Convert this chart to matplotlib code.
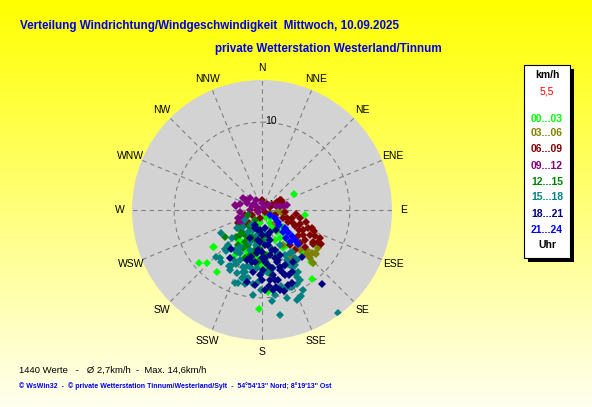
import numpy as np
import matplotlib
matplotlib.use('Agg')
import matplotlib.pyplot as plt
from matplotlib.patches import Rectangle

W, H = 592, 407
FONT = 'Liberation Sans'

# ---------------- data ----------------
title_line1 = "Verteilung Windrichtung/Windgeschwindigkeit  Mittwoch, 10.09.2025"
title_line2 = "private Wetterstation Westerland/Tinnum"
stats_text = "1440 Werte   -   Ø 2,7km/h  -  Max. 14,6km/h"
footer_text = "© WsWin32  -  © private Wetterstation Tinnum/Westerland/Sylt  -  54°54'13'' Nord; 8°19'13'' Ost"
legend_unit = "km/h"
legend_mean = "5,5"
legend_hours_title = "Uhr"

directions = ['N', 'NNE', 'NE', 'ENE', 'E', 'ESE', 'SE', 'SSE',
              'S', 'SSW', 'SW', 'WSW', 'W', 'WNW', 'NW', 'NNW']
ring_values = [10]
r_max = 14.8

hour_labels = ['00...03', '03...06', '06...09', '09...12',
               '12...15', '15...18', '18...21', '21...24']
hour_colors = ['#00FF00', '#808000', '#800000', '#800080',
               '#008000', '#008080', '#000080', '#0000FF']

# wind direction (degrees, from N clockwise) and speed (km/h) per 3-hour block
dir_00_03 = [63, 97, 110, 123, 137, 230, 226, 232, 216, 182, 144, 136, 136, 213, 200, 194,
             186, 194, 200, 177, 182, 176, 148, 146, 147, 144, 157, 190, 189, 180, 192, 175,
             185, 204, 149, 157, 129, 151, 212, 206, 233, 221,
             135, 138, 140.6, 219, 211, 172, 174]
spd_00_03 = [4.1, 4.9, 3.4, 7.5, 8.1, 9.3, 8.7, 6.9, 8.7, 11.3, 9.7, 8.4, 6.8, 4.75, 5.0, 5.2,
             5.4, 3.4, 5.7, 6.6, 6.25, 9.35, 1.7, 3.0, 3.8, 4.9, 0.9, 3.1, 1.5, 4.9, 4.9, 6.05,
             6.5, 4.7, 2.4, 3.7, 3.1, 4.9, 4.3, 3.15, 7.0, 7.25,
             1.3, 2.7, 4.1, 4.4, 6.0, 5.2, 8.9]

dir_03_06 = [129, 132, 147, 149, 136, 124, 135, 136, 101, 98, 114, 84, 131, 131, 134, 129,
             149, 138, 110, 135]
spd_03_06 = [7.75, 6.85, 6.3, 4.6, 8.4, 7.7, 7.7, 6.3, 1.7, 2.3, 1.4, 2.05, 5.7, 7.5, 7.15, 7.9,
             6.2, 5.8, 1.0, 2.1]

dir_06_09 = [0, 40, 70, 68, 61, 62, 65, 62, 69, 270, 239, 225, 194, 63, 66, 111,
             115, 105, 116, 110, 116, 111, 118, 116, 120, 120, 122, 125, 126, 116, 97, 102,
             105, 110, 95, 141, 140, 131, 131, 108, 113, 121, 118, 124, 112, 237, 229,
             241.5, 254, 243, 124, 111]
spd_06_09 = [1.1, 0.9, 1.7, 2.4, 2.3, 1.9, 1.6, 2.45, 1.0, 0.6, 2.65, 2.1, 0.9, 1.3, 2.0, 2.55,
             3.25, 3.5, 4.2, 4.6, 5.2, 5.6, 6.15, 6.7, 7.3, 7.8, 6.8, 6.0, 5.0, 7.3, 3.9, 4.4,
             5.2, 6.0, 2.6, 5.1, 5.9, 5.7, 6.45, 3.0, 3.8, 5.5, 4.8, 7.0, 6.4, 3.0, 2.4,
             3.1, 2.0, 1.27, 0.4, 1.6]

dir_09_12 = [302, 279, 295, 307, 270, 238, 250, 265, 252, 329, 0, 74, 77, 80, 315, 239,
             245, 280, 301, 243, 27, 285, 302, 292, 50, 79]
spd_09_12 = [2.55, 3.0, 1.9, 1.1, 1.36, 2.55, 2.3, 2.5, 2.9, 1.3, 0.8, 1.65, 2.1, 2.5, 1.9, 2.9,
             2.1, 3.1, 0.66, 0.5, 0.25, 2.6, 2.1, 1.2, 0.9, 2.9]

dir_12_15 = [234, 231, 214, 219, 214, 202, 193, 192, 200, 191, 224, 183, 177, 174, 200, 185,
             215, 208, 188, 172, 250, 215, 173, 221, 175, 180,
             222, 205, 190, 195, 206.5, 184, 233]
spd_12_15 = [5.2, 3.2, 3.4, 2.2, 4.8, 4.3, 3.5, 5.2, 5.8, 2.3, 4.3, 4.5, 5.7, 7.2, 3.3, 2.6,
             2.4, 4.1, 4.2, 6.9, 1.7, 1.4, 2.9, 3.8, 5.1, 3.4,
             3.4, 3.75, 4.6, 5.3, 4.8, 5.9, 3.4]

dir_15_18 = [241, 223.5, 221, 221, 210.5, 205.7, 200.3, 198.2, 198.4, 195.3, 191.9, 186, 173.7,
             170.3, 157.2, 158.7, 155.6, 160, 164, 152.4, 149.9, 151.5, 153.4, 144.5, 160.8,
             167.8, 169.3, 175.4, 180, 185, 143.5, 201.6, 196.4, 191.6, 209.2, 210.8, 210.7,
             200.6, 204, 191, 177.5, 168.7, 234.2, 228, 224.4, 218.3, 207, 195, 187, 182.4,
             194, 152.4, 154.7, 209, 197, 158.7, 166, 240, 214, 145, 154.3, 147, 160, 149,
             224, 227, 208, 204, 214, 193, 197, 153, 153, 151.5, 153, 164, 171, 181, 212, 190,
             153, 145.5]
spd_15_18 = [5.4, 6.1, 7.25, 6.2, 7.4, 6.8, 8.85, 8.7, 6.8, 7.3, 6.6, 9.7, 10.4,
             12.1, 10.85, 11.0, 10.7, 9.3, 9.45, 8.6, 8.15, 7.4, 6.35, 5.9, 5.2,
             4.3, 6.7, 7.1, 7.2, 6.6, 14.6, 7.7, 8.05, 7.9, 6.5, 5.55, 4.9,
             3.9, 2.5, 2.9, 2.6, 3.5, 3.5, 2.9, 7.5, 7.5, 5.5, 6.6, 8.5, 8.1,
             8.0, 8.1, 9.3, 7.3, 7.4, 9.4, 8.9, 2.2, 2.05, 6.9, 6.8, 5.8, 6.9, 7.3,
             5.5, 4.7, 7.7, 6.2, 5.5, 8.7, 4.75, 5.7, 7.0, 9.05, 10.2, 10.4, 9.8, 9.1, 3.0, 4.0,
             4.5, 6.6]

dir_18_21 = [205, 186, 170, 187.6, 175, 165, 180, 170, 162, 162, 174, 163, 160.5, 169.5, 161,
             157.7, 165, 172, 175, 170, 179, 188, 141, 149, 154, 139.6, 167, 161.6, 170.4,
             162.5, 164, 183.6, 186.6, 193, 196.7, 191.8, 213.7, 218.5, 166.5, 166, 176, 157,
             157, 180, 188, 191, 145, 158,
             201, 180, 170, 186, 177, 170, 182, 185, 167, 173.5, 191, 180, 165, 160, 203, 178]
spd_18_21 = [1.9, 2.3, 2.05, 3.4, 4.0, 3.5, 4.8, 5.2, 4.8, 6.0, 6.3, 7.1, 7.8, 8.1, 9.0,
             9.0, 9.6, 9.2, 8.7, 8.9, 6.8, 7.1, 10.8, 6.9, 7.8, 7.0, 8.2, 7.5, 7.5,
             6.8, 6.15, 3.65, 4.9, 5.5, 5.9, 8.4, 6.6, 5.7, 2.95, 4.7, 5.5, 6.8,
             8.0, 8.0, 6.0, 2.3, 2.8, 5.5,
             2.2, 2.8, 4.0, 4.6, 5.9, 6.7, 7.4, 8.6, 9.3, 8.0, 6.0, 5.45, 5.65, 2.66, 3.46, 9.1]

dir_21_24 = [122, 130, 128, 131, 131, 132, 136, 139, 133, 127, 139, 122]
spd_21_24 = [1.7, 2.6, 3.3, 3.9, 4.5, 5.1, 3.45, 4.8, 5.6, 2.3, 4.2, 1.07]

series = [(dir_00_03, spd_00_03), (dir_03_06, spd_03_06), (dir_06_09, spd_06_09),
          (dir_09_12, spd_09_12), (dir_12_15, spd_12_15), (dir_15_18, spd_15_18),
          (dir_18_21, spd_18_21), (dir_21_24, spd_21_24)]

# ---------------- figure ----------------
def px(x, y):
    return x / W, 1 - y / H

fig = plt.figure(figsize=(W / 100, H / 100), dpi=100)

bg = fig.add_axes([0, 0, 1, 1], zorder=-10)
g = np.linspace(0, 1, 256)
img = np.ones((256, 1, 3))
img[:, 0, 2] = 0.0 + 0.94 * g
bg.imshow(img, aspect='auto', extent=[0, 1, 0, 1], interpolation='bilinear')
bg.axis('off')

cx, cy, R = 262, 210, 130
ax = fig.add_axes([(cx - R) / W, (H - cy - R) / H, 2 * R / W, 2 * R / H], projection='polar')
ax.set_theta_zero_location('N')
ax.set_theta_direction(-1)
ax.set_facecolor('#D3D3D3')
ax.spines['polar'].set_visible(False)
ax.set_ylim(0, r_max)
ax.set_xticks(np.deg2rad(np.arange(16) * 22.5))
ax.set_xticklabels([])
ax.set_yticks(ring_values)
ax.set_yticklabels([])
ax.grid(True, color='#808080', linestyle=(0, (4, 3.5)), linewidth=0.8)

for i, lab in enumerate(directions):
    ax.text(np.deg2rad(i * 22.5), 16.15, lab, ha='center', va='center',
            fontsize=7.5, family=FONT, color='black', clip_on=False)

ax.text(*px(265, 121), '10', transform=fig.transFigure, ha='left', va='center',
        fontsize=7.5, family=FONT, color='black')
ax.text(*px(268, 205), '1', transform=fig.transFigure, ha='left', va='center',
        fontsize=7, family=FONT, color='black', zorder=1)

for (d, s), col in zip(series, hour_colors):
    ax.plot(np.deg2rad(d), s, linestyle='none', marker='D', ms=3.8, mew=0,
            color=col, zorder=2)

# titles
fig.text(*px(20, 29), title_line1, ha='left', va='baseline', fontsize=8.4,
         fontweight='bold', family=FONT, color='#0000E8')
fig.text(*px(215, 52), title_line2, ha='left', va='baseline', fontsize=8.4,
         fontweight='bold', family=FONT, color='#0000E8')

# legend box
fig.patches.append(Rectangle(px(528, 262), 46 / W, 193 / H, transform=fig.transFigure,
                             facecolor='black', edgecolor='none', zorder=1))
fig.patches.append(Rectangle(px(524, 258), 46 / W, 193 / H, transform=fig.transFigure,
                             facecolor='white', edgecolor='black', linewidth=0.8, zorder=2))
lx = 547
fig.text(*px(lx, 75), legend_unit, ha='center', va='center', fontsize=7.5,
         fontweight='bold', family=FONT, color='black', zorder=3)
fig.text(*px(lx, 92), legend_mean, ha='center', va='center', fontsize=7.5,
         family=FONT, color='#FF0000', zorder=3)
hour_y = [119, 133.5, 149.5, 166, 182, 197.5, 214, 230]
for lab, col, yy in zip(hour_labels, hour_colors, hour_y):
    fig.text(*px(lx, yy), lab, ha='center', va='center', fontsize=7.5,
             fontweight='bold', family=FONT, color=col, zorder=3)
fig.text(*px(lx, 245), legend_hours_title, ha='center', va='center', fontsize=7.5,
         fontweight='bold', family=FONT, color='black', zorder=3)

# bottom texts
fig.text(*px(19, 373), stats_text, ha='left', va='baseline', fontsize=6.8,
         family=FONT, color='black')
fig.text(*px(19, 388.5), footer_text, ha='left', va='baseline', fontsize=5.0,
         fontweight='bold', family=FONT, color='#0000E8')

fig.savefig('out.png', dpi=100)
